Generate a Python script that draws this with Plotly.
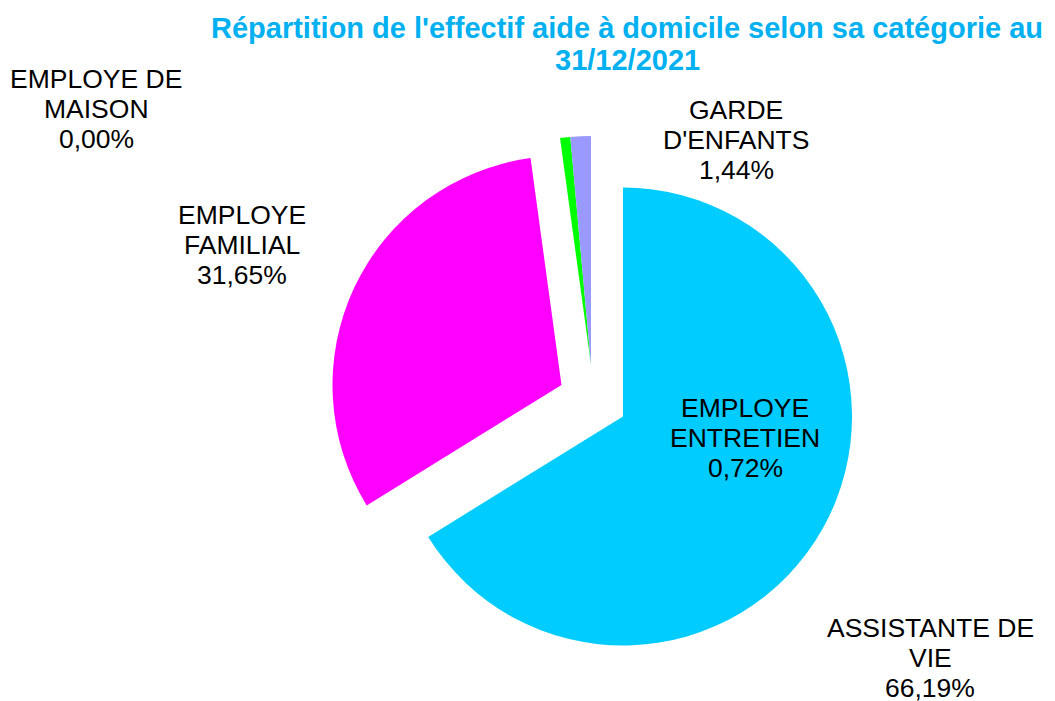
import plotly.graph_objs as go

# data
categories = ["ASSISTANTE DE VIE", "EMPLOYE FAMILIAL", "EMPLOYE DE MAISON",
              "EMPLOYE ENTRETIEN", "GARDE D'ENFANTS"]
shares = [66.19, 31.65, 0.00, 0.72, 1.44]
colors = ["#00CCFF", "#FF00FF", "#800080", "#00FF00", "#9999FF"]
wrapped = ["ASSISTANTE DE\nVIE", "EMPLOYE\nFAMILIAL", "EMPLOYE DE\nMAISON",
           "EMPLOYE\nENTRETIEN", "GARDE\nD'ENFANTS"]
title_lines = ["Répartition de l'effectif aide à domicile selon sa catégorie au", "31/12/2021"]

W, H = 1055, 701
OFF = 8   # page body margin, the figure is drawn 8px in from the corner
R = 229
FONT = "Arial, Liberation Sans, sans-serif"


def domain(cx, cy):
    cx, cy = cx - OFF, cy - OFF
    return dict(x=[(cx - R) / W, (cx + R) / W],
                y=[1 - (cy + R) / H, 1 - (cy - R) / H])


def add_lines(fig, lines, x, y, step, font):
    # one annotation per line, to get the tighter line spacing of the original
    n = len(lines)
    for i, line in enumerate(lines):
        yy = y + (i - (n - 1) / 2) * step
        fig.add_annotation(
            x=(x - OFF) / W, y=1 - (yy - OFF) / H, xref="paper", yref="paper",
            text=line, showarrow=False, xanchor="center", yanchor="middle",
            font=font,
        )


# each exploded group is its own pie so it can be offset like in the original
groups = [
    ([0], (623, 416.5)),
    ([1], (561.5, 385)),
    ([2, 3, 4], (591, 365)),
]

fig = go.Figure()
for idx, (cx, cy) in groups:
    fig.add_trace(go.Pie(
        labels=categories,
        values=shares,
        sort=False,
        direction="clockwise",
        rotation=0,
        textinfo="none",
        hoverinfo="skip",
        showlegend=False,
        marker=dict(colors=[c if i in idx else "rgba(0,0,0,0)" for i, c in enumerate(colors)],
                    line=dict(width=0)),
        domain=domain(cx, cy),
    ))

# label placement as in the original chart (labels are not on their slices)
label_pos = {
    "ASSISTANTE DE VIE": (930, 658),
    "EMPLOYE FAMILIAL": (242, 245),
    "EMPLOYE DE MAISON": (96, 109),
    "EMPLOYE ENTRETIEN": (745, 438),
    "GARDE D'ENFANTS": (736, 140),
}
label_font = dict(family=FONT, size=26.5, color="black")
for name, txt, v in zip(categories, wrapped, shares):
    x, y = label_pos[name]
    lines = txt.split("\n") + [("%.2f%%" % v).replace(".", ",")]
    add_lines(fig, lines, x, y, 30, label_font)

add_lines(fig, ["<b>%s</b>" % t for t in title_lines], 627, 44, 32,
          dict(family=FONT, size=29, color="#00B0F0"))

fig.update_layout(
    width=W, height=H,
    margin=dict(l=0, r=0, t=0, b=0),
    paper_bgcolor="white",
    plot_bgcolor="white",
)

fig.write_html("out.html")
